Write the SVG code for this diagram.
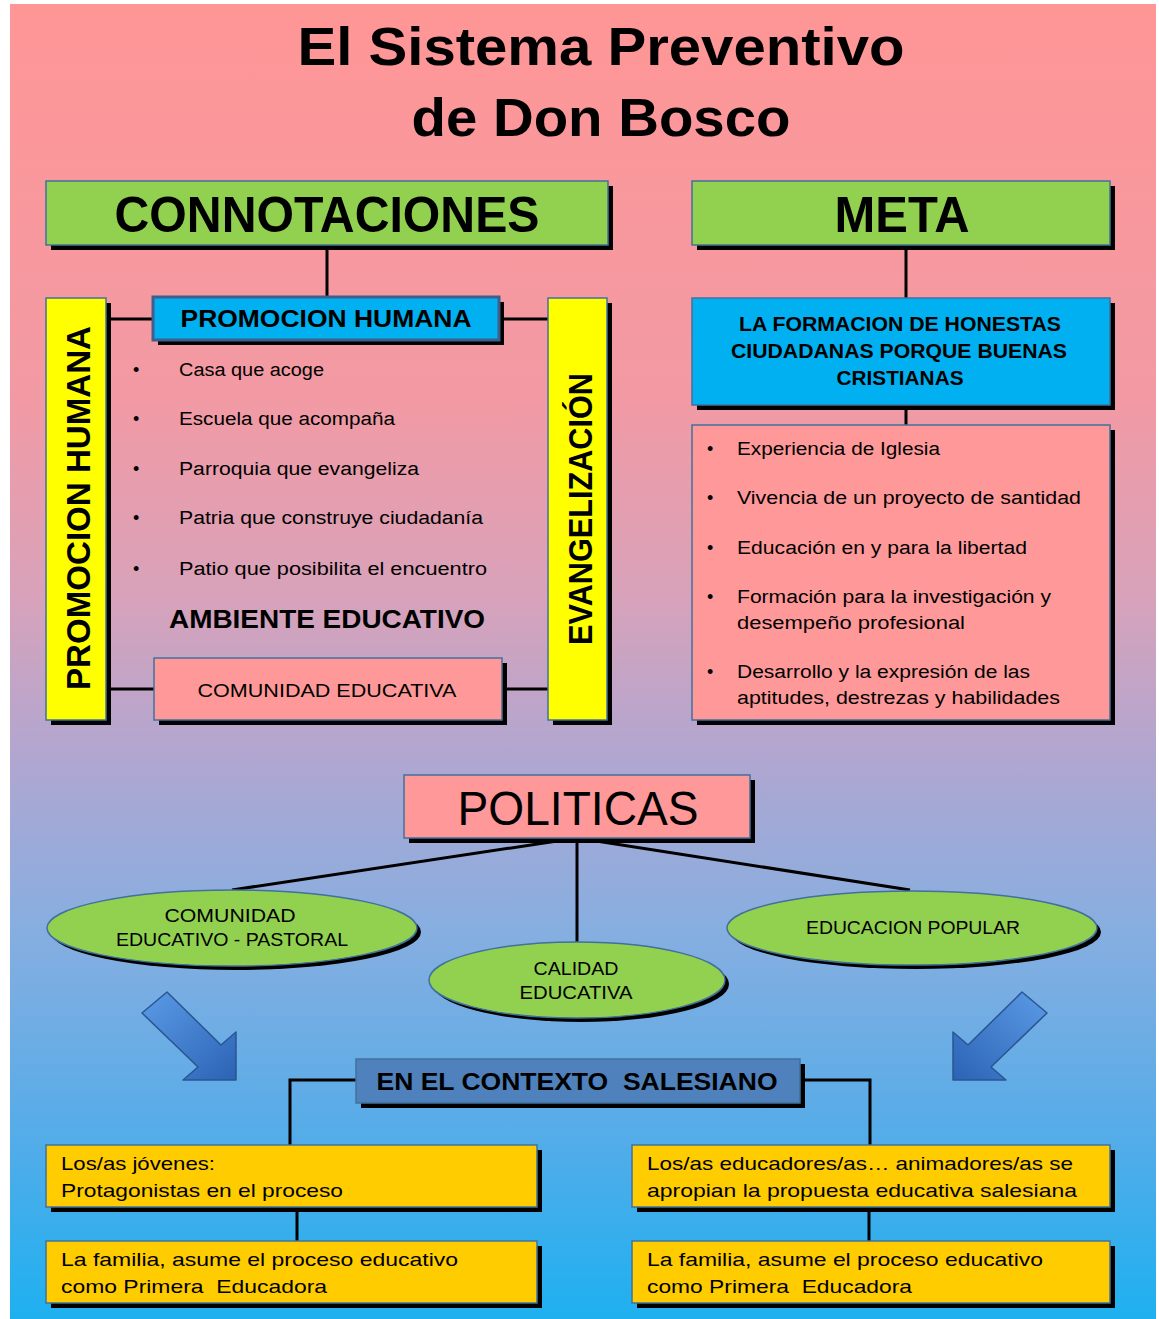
<svg xmlns="http://www.w3.org/2000/svg" width="1159" height="1319" viewBox="0 0 1159 1319">
<defs>
<linearGradient id="bg" x1="0" y1="0" x2="0" y2="1">
<stop offset="0" stop-color="#FF9696"/>
<stop offset="0.3" stop-color="#F29AA4"/>
<stop offset="0.45" stop-color="#D8A2BA"/>
<stop offset="0.57" stop-color="#B1A6D0"/>
<stop offset="0.7" stop-color="#88AEE0"/>
<stop offset="0.85" stop-color="#58ACE8"/>
<stop offset="1" stop-color="#1EB0F0"/>
</linearGradient>
<linearGradient id="arr" x1="0" y1="0" x2="1" y2="1">
<stop offset="0" stop-color="#5B9BE6"/>
<stop offset="1" stop-color="#2C63B5"/>
</linearGradient>
<style>
.bx{stroke:#41719C;stroke-width:1.5}
.sh{fill:#000}
.green{fill:#92D050}
.yel{fill:#FFFF00}
.cyan{fill:#00B0F0}
.pink{fill:#FF9999}
.gold{fill:#FFCC00}
.steel{fill:#4F81BD}
.ln{stroke:#000;stroke-width:3;fill:none}
.t{font-family:"Liberation Sans",Arial,sans-serif;fill:#000}
.b{font-weight:bold}
.c{text-anchor:middle}
</style>
</defs>
<rect x="10" y="4" width="1146" height="1315" fill="url(#bg)"/>

<g id="title">
<text class="t b c" x="601" y="65" font-size="54" textLength="607" lengthAdjust="spacingAndGlyphs">El Sistema Preventivo</text>
<text class="t b c" x="601" y="136" font-size="54" textLength="379" lengthAdjust="spacingAndGlyphs">de Don Bosco</text>
</g>

<g id="connectors">
<line class="ln" x1="327" y1="245" x2="327" y2="298"/>
<line class="ln" x1="906" y1="245" x2="906" y2="298"/>
<line class="ln" x1="106" y1="319" x2="153" y2="319"/>
<line class="ln" x1="499" y1="319" x2="548" y2="319"/>
<line class="ln" x1="106" y1="689" x2="154" y2="689"/>
<line class="ln" x1="502" y1="689" x2="548" y2="689"/>
<line class="ln" x1="906" y1="405" x2="906" y2="425"/>
<line class="ln" x1="577" y1="838" x2="232" y2="890"/>
<line class="ln" x1="577" y1="838" x2="577" y2="943"/>
<line class="ln" x1="577" y1="838" x2="910" y2="890"/>
<polyline class="ln" points="356,1080 290,1080 290,1145"/>
<polyline class="ln" points="800,1080 870,1080 870,1145"/>
<line class="ln" x1="297" y1="1207" x2="297" y2="1241"/>
<line class="ln" x1="869" y1="1207" x2="869" y2="1241"/>
</g>

<g id="connotaciones">
<rect class="sh" x="51" y="186" width="562" height="64"/>
<rect class="bx green" x="46" y="181" width="562" height="64"/>
<text class="t b c" x="327" y="232" font-size="50" textLength="425" lengthAdjust="spacingAndGlyphs">CONNOTACIONES</text>
</g>

<g id="meta">
<rect class="sh" x="697" y="186" width="418" height="64"/>
<rect class="bx green" x="692" y="181" width="418" height="64"/>
<text class="t b c" x="902" y="232" font-size="50" textLength="135" lengthAdjust="spacingAndGlyphs">META</text>
</g>

<g id="promocion-vertical">
<rect class="sh" x="51" y="303" width="60" height="422"/>
<rect class="bx yel" x="46" y="298" width="60" height="422"/>
<text class="t b c" transform="translate(90,508) rotate(-90)" font-size="34" textLength="364" lengthAdjust="spacingAndGlyphs">PROMOCION HUMANA</text>
</g>

<g id="evangelizacion">
<rect class="sh" x="553" y="303" width="59" height="422"/>
<rect class="bx yel" x="548" y="298" width="59" height="422"/>
<text class="t b c" transform="translate(592,509) rotate(-90)" font-size="34" textLength="272" lengthAdjust="spacingAndGlyphs">EVANGELIZACIÓN</text>
</g>

<g id="promocion-humana">
<rect class="sh" x="158" y="302" width="346" height="43"/>
<rect x="153" y="297" width="346" height="43" fill="#00B0F0" stroke="#3D5F8A" stroke-width="3"/>
<text class="t b c" x="326" y="327" font-size="23" textLength="291" lengthAdjust="spacingAndGlyphs">PROMOCION HUMANA</text>
</g>

<g id="ambiente-list">
<g class="t" font-size="18">
<text x="133" y="376">•</text>
<text x="179" y="376" textLength="145" lengthAdjust="spacingAndGlyphs">Casa que acoge</text>
<text x="133" y="425">•</text>
<text x="179" y="425" textLength="216" lengthAdjust="spacingAndGlyphs">Escuela que acompaña</text>
<text x="133" y="475">•</text>
<text x="179" y="475" textLength="240" lengthAdjust="spacingAndGlyphs">Parroquia que evangeliza</text>
<text x="133" y="524">•</text>
<text x="179" y="524" textLength="304" lengthAdjust="spacingAndGlyphs">Patria que construye ciudadanía</text>
<text x="133" y="575">•</text>
<text x="179" y="575" textLength="308" lengthAdjust="spacingAndGlyphs">Patio que posibilita el encuentro</text>
</g>
<text class="t b c" x="327" y="628" font-size="25" textLength="316" lengthAdjust="spacingAndGlyphs">AMBIENTE EDUCATIVO</text>
</g>

<g id="comunidad-educativa">
<rect class="sh" x="159" y="663" width="348" height="62"/>
<rect class="bx pink" x="154" y="658" width="348" height="62"/>
<text class="t c" x="327" y="697" font-size="19" textLength="259" lengthAdjust="spacingAndGlyphs">COMUNIDAD EDUCATIVA</text>
</g>

<g id="formacion">
<rect class="sh" x="697" y="303" width="418" height="107"/>
<rect class="bx cyan" x="692" y="298" width="418" height="107"/>
<g class="t b c" font-size="20">
<text x="900" y="331" textLength="322" lengthAdjust="spacingAndGlyphs">LA FORMACION DE HONESTAS</text>
<text x="899" y="358" textLength="336" lengthAdjust="spacingAndGlyphs">CIUDADANAS PORQUE BUENAS</text>
<text x="900" y="385" textLength="127" lengthAdjust="spacingAndGlyphs">CRISTIANAS</text>
</g>
</g>

<g id="meta-list">
<rect class="sh" x="697" y="430" width="418" height="295"/>
<rect class="bx pink" x="692" y="425" width="418" height="295"/>
<g class="t" font-size="18">
<text x="707" y="455">•</text>
<text x="737" y="455" textLength="203" lengthAdjust="spacingAndGlyphs">Experiencia de Iglesia</text>
<text x="707" y="504">•</text>
<text x="737" y="504" textLength="344" lengthAdjust="spacingAndGlyphs">Vivencia de un proyecto de santidad</text>
<text x="707" y="554">•</text>
<text x="737" y="554" textLength="290" lengthAdjust="spacingAndGlyphs">Educación en y para la libertad</text>
<text x="707" y="603">•</text>
<text x="737" y="603" textLength="314" lengthAdjust="spacingAndGlyphs">Formación para la investigación y</text>
<text x="737" y="629" textLength="228" lengthAdjust="spacingAndGlyphs">desempeño profesional</text>
<text x="707" y="678">•</text>
<text x="737" y="678" textLength="293" lengthAdjust="spacingAndGlyphs">Desarrollo y la expresión de las</text>
<text x="737" y="704" textLength="323" lengthAdjust="spacingAndGlyphs">aptitudes, destrezas y habilidades</text>
</g>
</g>

<g id="politicas">
<rect class="sh" x="409" y="780" width="346" height="63"/>
<rect class="bx pink" x="404" y="775" width="346" height="63"/>
<text class="t c" x="578" y="825" font-size="48" textLength="241" lengthAdjust="spacingAndGlyphs">POLITICAS</text>
</g>

<g id="comunidad-pastoral">
<ellipse class="sh" cx="236" cy="932" rx="185" ry="38"/>
<ellipse class="bx green" cx="232" cy="928" rx="185" ry="38"/>
<g class="t c" font-size="18">
<text x="230" y="922" textLength="131" lengthAdjust="spacingAndGlyphs">COMUNIDAD</text>
<text x="232" y="946" textLength="232" lengthAdjust="spacingAndGlyphs">EDUCATIVO - PASTORAL</text>
</g>
</g>

<g id="calidad">
<ellipse class="sh" cx="581" cy="984" rx="148" ry="38"/>
<ellipse class="bx green" cx="577" cy="980" rx="148" ry="38"/>
<g class="t c" font-size="18">
<text x="576" y="975" textLength="85" lengthAdjust="spacingAndGlyphs">CALIDAD</text>
<text x="576" y="999" textLength="113" lengthAdjust="spacingAndGlyphs">EDUCATIVA</text>
</g>
</g>

<g id="educacion-popular">
<ellipse class="sh" cx="916" cy="932" rx="185" ry="37"/>
<ellipse class="bx green" cx="912" cy="928" rx="185" ry="37"/>
<text class="t c" x="913" y="934" font-size="18" textLength="214" lengthAdjust="spacingAndGlyphs">EDUCACION POPULAR</text>
</g>

<g id="arrows">
<polygon points="142,1013 167,992 221,1045 236,1032 236,1080 183,1080 198,1067" fill="url(#arr)" stroke="#2A5590" stroke-width="1.5" stroke-linejoin="round"/>
<polygon transform="translate(1189,0) scale(-1,1)" points="142,1013 167,992 221,1045 236,1032 236,1080 183,1080 198,1067" fill="url(#arr)" stroke="#2A5590" stroke-width="1.5" stroke-linejoin="round"/>
</g>

<g id="contexto">
<rect class="sh" x="361" y="1064" width="444" height="44"/>
<rect class="bx steel" x="356" y="1059" width="444" height="44"/>
<text class="t b c" x="577" y="1090" font-size="24" textLength="401" lengthAdjust="spacingAndGlyphs" xml:space="preserve">EN EL CONTEXTO  SALESIANO</text>
</g>

<g id="jovenes">
<rect class="sh" x="51" y="1150" width="491" height="62"/>
<rect class="bx gold" x="46" y="1145" width="491" height="62"/>
<g class="t" font-size="19">
<text x="61" y="1170" textLength="154" lengthAdjust="spacingAndGlyphs">Los/as jóvenes:</text>
<text x="61" y="1197" textLength="282" lengthAdjust="spacingAndGlyphs">Protagonistas en el proceso</text>
</g>
</g>

<g id="educadores">
<rect class="sh" x="637" y="1150" width="478" height="62"/>
<rect class="bx gold" x="632" y="1145" width="478" height="62"/>
<g class="t" font-size="19">
<text x="647" y="1170" textLength="426" lengthAdjust="spacingAndGlyphs">Los/as educadores/as… animadores/as se</text>
<text x="647" y="1197" textLength="430" lengthAdjust="spacingAndGlyphs">apropian la propuesta educativa salesiana</text>
</g>
</g>

<g id="familia-izq">
<rect class="sh" x="51" y="1246" width="491" height="62"/>
<rect class="bx gold" x="46" y="1241" width="491" height="62"/>
<g class="t" font-size="19">
<text x="61" y="1266" textLength="397" lengthAdjust="spacingAndGlyphs">La familia, asume el proceso educativo</text>
<text x="61" y="1293" textLength="266" lengthAdjust="spacingAndGlyphs" xml:space="preserve">como Primera  Educadora</text>
</g>
</g>

<g id="familia-der">
<rect class="sh" x="637" y="1246" width="478" height="62"/>
<rect class="bx gold" x="632" y="1241" width="478" height="62"/>
<g class="t" font-size="19">
<text x="647" y="1266" textLength="396" lengthAdjust="spacingAndGlyphs">La familia, asume el proceso educativo</text>
<text x="647" y="1293" textLength="265" lengthAdjust="spacingAndGlyphs" xml:space="preserve">como Primera  Educadora</text>
</g>
</g>
</svg>
